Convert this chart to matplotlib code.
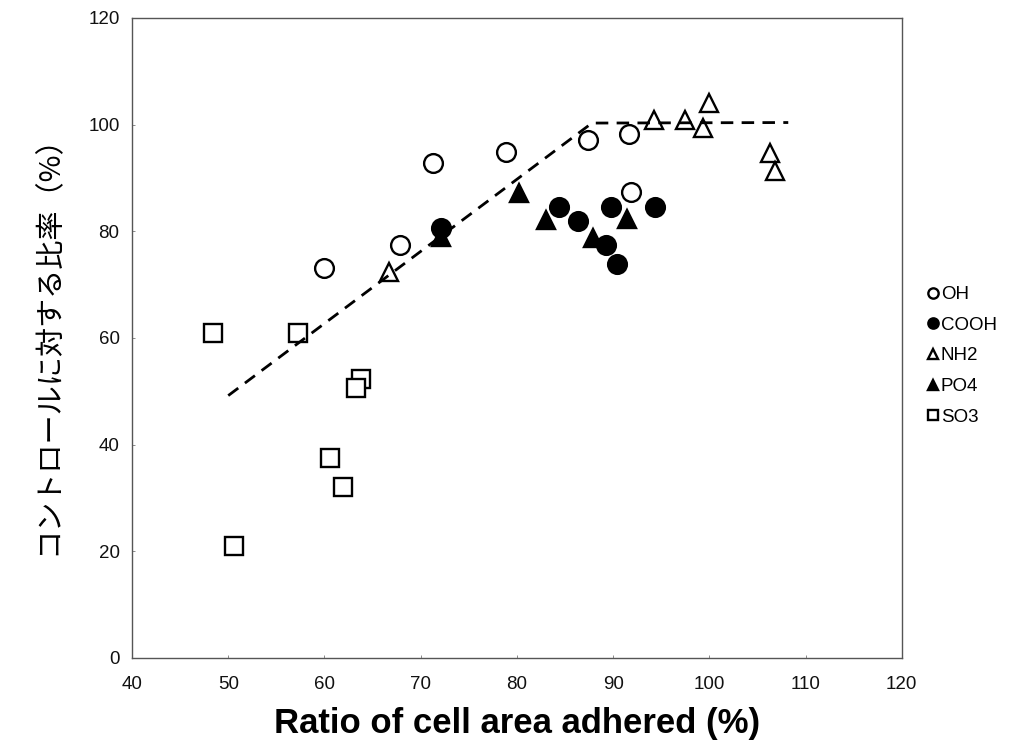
import matplotlib
matplotlib.use("Agg")
import matplotlib.pyplot as plt

plt.rcParams['font.family'] = ['Liberation Sans', 'Noto Sans CJK JP', 'DejaVu Sans']

# 各官能基のデータ (x: 接着細胞面積比 %, y: コントロール比 %)
oh_x = [60.0, 67.9, 71.3, 78.9, 87.4, 91.7, 91.9]
oh_y = [73.1, 77.4, 92.8, 94.9, 97.1, 98.3, 87.4]

cooh_x = [72.1, 84.4, 86.4, 89.8, 89.3, 90.4, 94.3]
cooh_y = [80.6, 84.6, 81.9, 84.6, 77.4, 73.9, 84.6]

nh2_x = [66.7, 94.2, 97.5, 99.3, 100.0, 106.3, 106.8]
nh2_y = [72.4, 100.9, 100.9, 99.4, 104.1, 94.7, 91.3]

po4_x = [72.1, 80.2, 83.0, 87.9, 91.4]
po4_y = [78.9, 87.2, 82.1, 78.8, 82.3]

so3_x = [48.4, 57.3, 63.8, 63.3, 60.6, 61.9, 50.6]
so3_y = [60.9, 60.9, 52.3, 50.6, 37.5, 32.1, 21.0]

# 破線 (トレンド)
trend_x = [50, 87.8, 108.2]
trend_y = [49.2, 100.3, 100.4]

fig = plt.figure(figsize=(10.25, 7.5), dpi=100)
ax = fig.add_axes([0.1288, 0.1227, 0.751, 0.8533])

ms = 13.5
ax.plot(oh_x, oh_y, 'o', ms=ms, mfc='white', mec='black', mew=1.7, label='OH')
ax.plot(cooh_x, cooh_y, 'o', ms=ms, mfc='black', mec='black', mew=1.7, label='COOH')
ax.plot(nh2_x, nh2_y, '^', ms=ms, mfc='white', mec='black', mew=1.7, label='NH2')
ax.plot(po4_x, po4_y, '^', ms=ms, mfc='black', mec='black', mew=1.7, label='PO4')
ax.plot(so3_x, so3_y, 's', ms=ms - 1, mfc='white', mec='black', mew=1.7, label='SO3')
ax.plot(trend_x, trend_y, '--', color='black', lw=2.0, dashes=(4.5, 3))

ax.set_xlim(40, 120)
ax.set_ylim(0, 120)
ax.set_xticks(range(40, 121, 10))
ax.set_yticks(range(0, 121, 20))
ax.tick_params(direction='in', length=2, width=0.6, color='#777777',
               labelsize=13.5, labelcolor='#111111')
ax.tick_params(axis='x', pad=13)
ax.tick_params(axis='y', pad=9)
for s in ax.spines.values():
    s.set_color('#555555')
    s.set_linewidth(1.0)

ax.set_xlabel('Ratio of cell area adhered (%)', fontsize=25, fontweight='bold', labelpad=10)
ax.set_ylabel('コントロールに対する比率（%）', fontsize=21,
              family=['Noto Sans CJK JP', 'DejaVu Sans'], labelpad=18)

ax.legend(loc='center left', bbox_to_anchor=(1.035, 0.472), frameon=False,
          markerscale=0.55, handlelength=0.5, handletextpad=0.15,
          labelspacing=0.72, fontsize=13.5, borderpad=0, borderaxespad=0)

fig.savefig('out.png', dpi=100)
